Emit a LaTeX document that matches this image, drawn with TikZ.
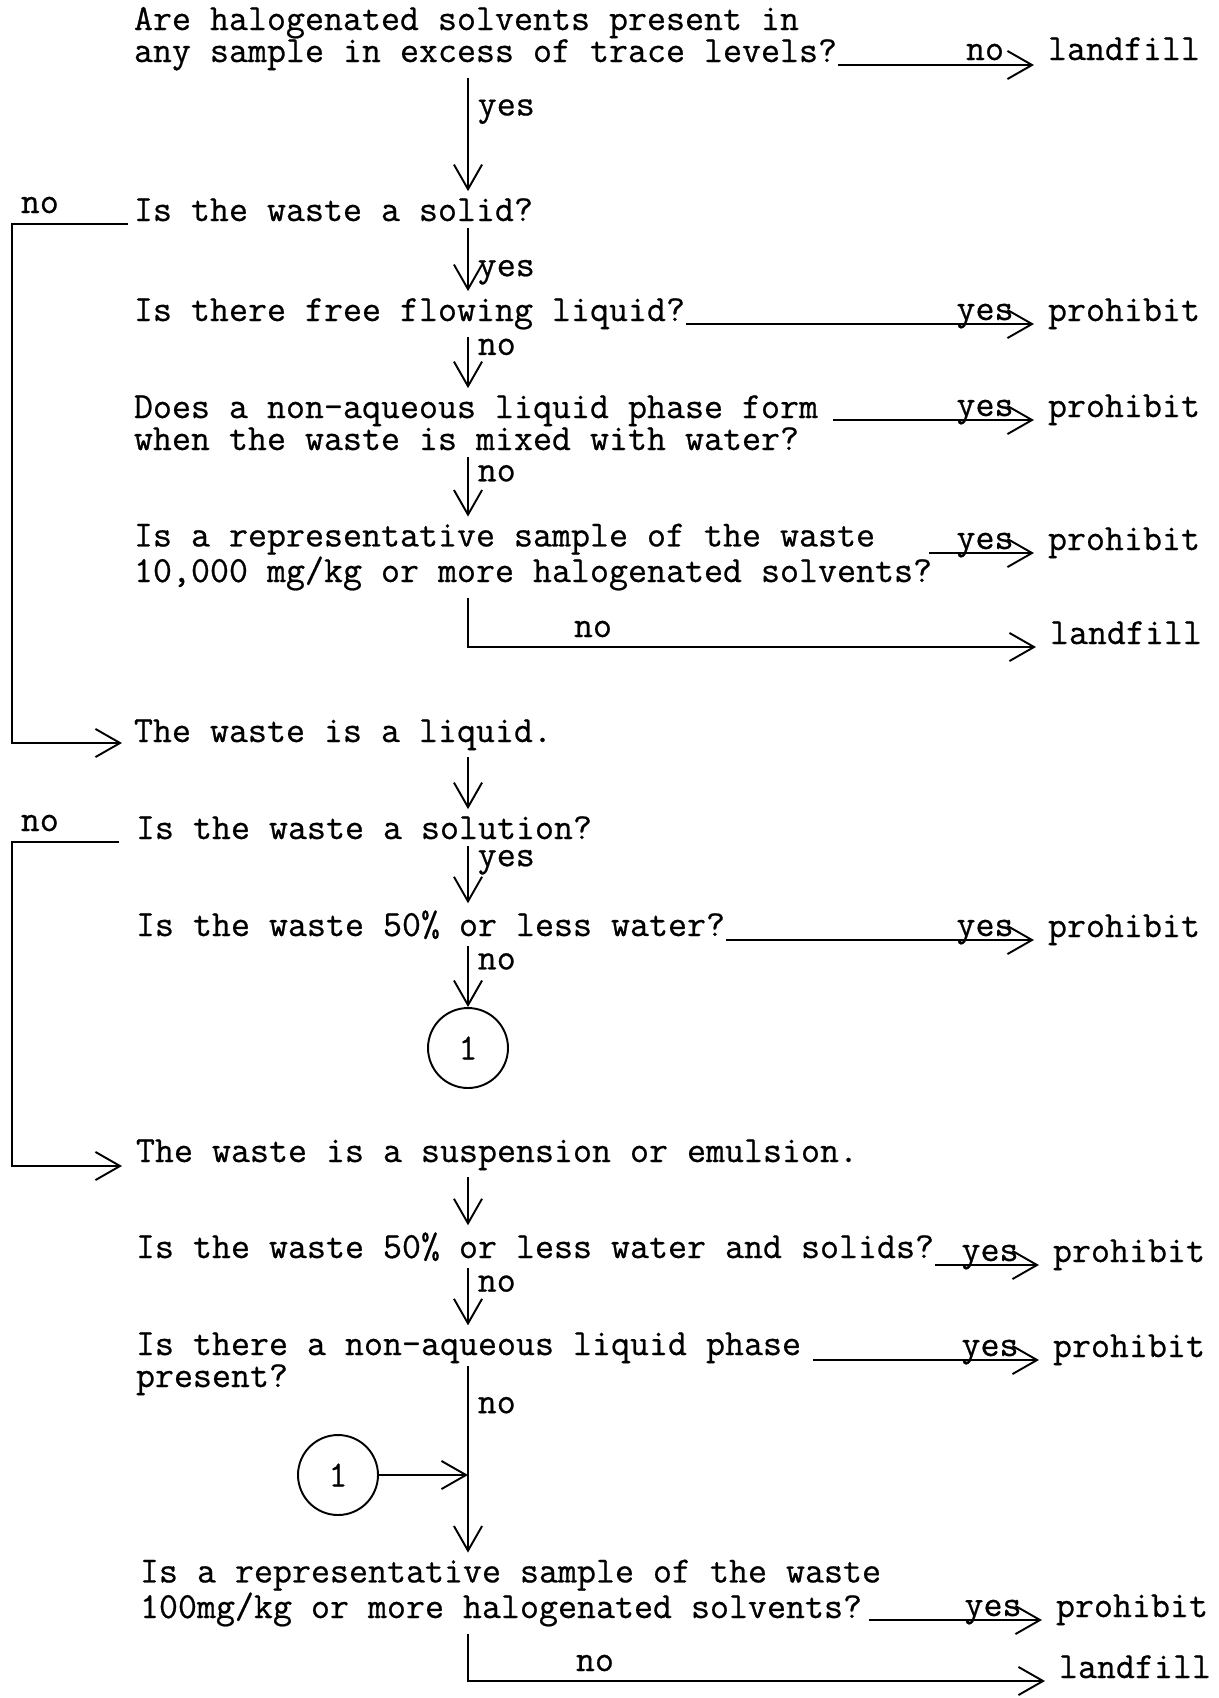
\documentclass[tikz,border=0pt]{standalone}
\usepackage{fontspec}
\newfontfamily\typer{Latin Modern Mono}[FakeBold=0.6]
\usetikzlibrary{arrows.meta,calc}

\begin{document}
\begin{tikzpicture}[x=0.02cm,y=-0.02cm,line width=1.1pt,
  >={Straight Barb[length=14pt,width=16pt,line width=1.1pt]},
  every node/.style={font=\typer\fontsize{21}{18.2}\selectfont},
  question/.style={anchor=base west,align=left,inner xsep=0pt,inner ysep=3.5pt},
  result/.style={anchor=base west,inner sep=0pt},
  lbl/.style={inner sep=0pt},
  ring/.style={draw,circle,minimum size=1.6cm,inner sep=0pt}]
\useasboundingbox (0,0) rectangle (1219,1698);
%\draw[help lines,step=50] (0,0) grid (1219,1698);

\coordinate (sp) at (468,0);
\coordinate (rl) at (12,0);

% solids
\node[question] (q1) at (133,62) {Are halogenated solvents present in\\any sample in excess of trace levels?};
\node[question] (q2) at (133,221) {Is the waste a solid?};
\node[question] (q3) at (133,321) {Is there free flowing liquid?};
\node[question] (q4) at (133,450) {Does a non-aqueous liquid phase form\\when the waste is mixed with water?};
\node[question] (q5) at (133,582) {Is a representative sample of the waste\\10,000 mg/kg or more halogenated solvents?};

\node[result] (r1) at (1047,60) {landfill};
\node[result] (r3) at (1047,321) {prohibit};
\node[result] (r4) at (1047,417) {prohibit};
\node[result] (r5) at (1047,550) {prohibit};
\node[result] (r5b) at (1049,644) {landfill};

\draw[->] ($(q1.east |- r1.base)+(0,5)$) -- node[lbl,at end,anchor=base,xshift=-0.98cm,yshift=0.1cm]{no} ($(r1.base west)+(-13,5)$);
\draw[->] (q1.south -| sp) -- node[lbl,right=5pt,pos=0.3]{yes} (q2.north -| sp);
\draw[->] (q2.south -| sp) -- node[lbl,right=5pt,pos=0.7]{yes} (q3.north -| sp);
\draw[->] ($(q3.east |- r3.base)+(0,3)$) -- node[lbl,at end,anchor=base,xshift=-0.98cm,yshift=0.08cm]{yes} ($(r3.base west)+(-13,3)$);
\draw[->] (q3.south -| sp) -- node[lbl,right=5pt,pos=0.2]{no} (q4.north -| sp);
\draw[->] ($(q4.east |- r4.base)+(14,3)$) -- node[lbl,at end,anchor=base,xshift=-0.98cm,yshift=0.08cm]{yes} ($(r4.base west)+(-13,3)$);
\draw[->] (q4.south -| sp) -- node[lbl,right=5pt,pos=0.27]{no} (q5.north -| sp);
\draw[->] ($(q5.east |- r5.base)+(-4,3)$) -- node[lbl,at end,anchor=base,xshift=-0.98cm,yshift=0.08cm]{yes} ($(r5.base west)+(-13,3)$);
\draw[->] (q5.south -| sp) |- node[lbl,pos=0.61,anchor=base,yshift=0.2cm]{no} ($(r5b.base west)+(-13,3)$);

% liquids
\node[question] (q6) at (133,742) {The waste is a liquid.};
\node[question] (q7) at (135,839) {Is the waste a solution?};
\node[question] (q8) at (135,936) {Is the waste 50\% or less water?};
\node[ring] (c1) at (468,1048) {1};

\node[result] (r8) at (1047,937) {prohibit};

\draw[->] ($(q2.base west)+(-5,3)$) -- node[lbl,pos=0.76,anchor=base,yshift=0.22cm]{no} ($(rl |- q2.base west)+(0,3)$) |- ($(q6.base west)+(-11,1)$);
\draw[->] (q6.south -| sp) -- (q7.north -| sp);
\draw[->] (q7.south -| sp) -- node[lbl,right=5pt,pos=0.28]{yes} (q8.north -| sp);
\draw[->] ($(q8.east |- r8.base)+(0,3)$) -- node[lbl,at end,anchor=base,xshift=-0.98cm,yshift=0.08cm]{yes} ($(r8.base west)+(-13,3)$);
\draw[->] (q8.south -| sp) -- node[lbl,right=5pt,pos=0.25]{no} (c1.north);

% suspensions
\node[question] (q9) at (135,1162) {The waste is a suspension or emulsion.};
\node[question] (q10) at (135,1258) {Is the waste 50\% or less water and solids?};
\node[question] (q11) at (135,1387) {Is there a non-aqueous liquid phase\\present?};
\node[ring] (c2) at (338,1475) {1};
\node[question] (q12) at (139,1618) {Is a representative sample of the waste\\100mg/kg or more halogenated solvents?};

\node[result] (r10) at (1052,1262) {prohibit};
\node[result] (r11) at (1052,1357) {prohibit};
\node[result] (r12) at (1055,1617) {prohibit};
\node[result] (r12b) at (1058,1678) {landfill};

\draw[->] ($(q7.base west)+(-16,3)$) -- node[lbl,pos=0.74,anchor=base,yshift=0.22cm]{no} ($(rl |- q7.base west)+(0,3)$) |- ($(q9.base west)+(-13,4)$);
\draw[->] (q9.south -| sp) -- (q10.north -| sp);
\draw[->] ($(q10.east |- r10.base)+(0,3)$) -- node[lbl,at end,anchor=base,xshift=-0.98cm,yshift=0.08cm]{yes} ($(r10.base west)+(-13,3)$);
\draw[->] (q10.south -| sp) -- node[lbl,right=5pt,pos=0.27]{no} (q11.north -| sp);
\draw[->] ($(q11.east |- r11.base)+(11,3)$) -- node[lbl,at end,anchor=base,xshift=-0.98cm,yshift=0.08cm]{yes} ($(r11.base west)+(-13,3)$);
\draw[->] ($(q11.base west -| sp)+(0,-21)$) -- node[lbl,right=5pt,pos=0.21]{no} (q12.north -| sp);
\draw[->] (c2.east) -- (c2.east -| sp);
\draw[->] ($(q12.east |- r12.base)+(-13,3)$) -- node[lbl,at end,anchor=base,xshift=-0.98cm,yshift=0.08cm]{yes} ($(r12.base west)+(-13,3)$);
\draw[->] (q12.south -| sp) |- node[lbl,pos=0.61,anchor=base,yshift=0.2cm]{no} ($(r12b.base west)+(-13,3)$);
\end{tikzpicture}
\end{document}
